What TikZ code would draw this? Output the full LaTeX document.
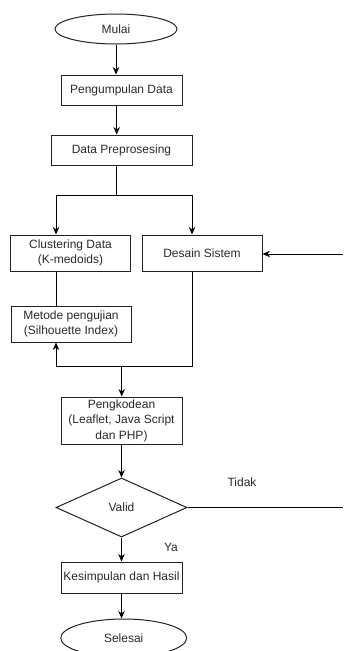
\documentclass[tikz,border=0pt]{standalone}
\usepackage{fontspec}
\setmainfont{Liberation Sans}
\usetikzlibrary{shapes.geometric,arrows.meta}
\definecolor{ln}{HTML}{222222}
\definecolor{tx}{HTML}{2A2A2A}
\begin{document}
\begin{tikzpicture}[x=1pt,y=-1pt,
  font=\fontsize{12}{15.5}\selectfont,
  every node/.style={text=tx},
  box/.style={draw=ln, line width=1pt, rectangle, inner sep=0pt, align=center},
  term/.style={draw=ln, line width=1pt, ellipse, inner sep=0pt},
  dec/.style={draw=ln, line width=1pt, diamond, inner sep=0pt},
  conn/.style={draw=black, line width=1pt},
  arr/.style={conn, -{Stealth[length=7.5pt,width=6.5pt]}},
  lbl/.style={inner sep=0pt}]
\useasboundingbox (0,0) rectangle (343,651);
\clip (0,0) rectangle (343,651);

\node[term, minimum width=122pt, minimum height=30pt] (mulai) at (116,29) {Mulai};
\node[box, minimum width=121pt, minimum height=30pt] (pd) at (121.5,90) {Pengumpulan Data};
\node[box, minimum width=141pt, minimum height=30pt] (prep) at (121.5,150) {Data Preprosesing};
\node[box, minimum width=119.5pt, minimum height=36pt] (clus) at (70.5,253) {Clustering Data\\(K-medoids)};
\node[box, minimum width=120pt, minimum height=36pt] (des) at (202,253) {Desain Sistem};
\node[box, minimum width=120pt, minimum height=36pt] (met) at (71,324) {Metode pengujian\\(Silhouette Index)};
\node[box, minimum width=121pt, minimum height=47pt] (kode) at (121.5,420.5) {Pengkodean\\(Leaflet, Java Script\\dan PHP)};
\node[dec, minimum width=131pt, minimum height=59pt] (valid) at (121.5,507.5) {Valid};
\node[box, minimum width=121pt, minimum height=31pt] (kes) at (121.5,577.5) {Kesimpulan dan Hasil};
\node[term, minimum width=126pt, minimum height=38pt] (sel) at (123.7,638) {Selesai};

\node[lbl] (tidak) at (242,482) {Tidak};
\node[lbl] (ya) at (171,547) {Ya};

\coordinate (split) at (116.7,195);
\coordinate (join) at (121.7,366);
\coordinate (rout) at (343,507.5);
\coordinate (rin) at (343,254);

\draw[arr] (mulai.south) -- (mulai.south |- pd.north);
\draw[arr] ([xshift=-4.8pt]pd.south) -- ([xshift=-4.8pt]prep.north);
\draw[conn] ([xshift=-4.8pt]prep.south) -- (split);
\draw[arr] (split) -| ([xshift=-14.5pt]clus.north);
\draw[arr] (split) -| ([xshift=-10pt]des.north);
\draw[conn] ([xshift=-14.5pt]clus.south) -- ([xshift=-15pt]met.north);
\draw[conn] ([xshift=-10pt]des.south) |- (join);
\draw[arr] (join) -| ([xshift=-15pt]met.south);
\draw[arr] (join) -- (join |- kode.north);
\draw[arr] (kode.south) -- (valid.north);
\draw[conn] (valid.east) -- (rout);
\draw[arr] (rin) -- (rin -| des.east);
\draw[arr] (valid.south) -- (kes.north);
\draw[arr] (kes.south) -- (kes.south |- sel.north);
\end{tikzpicture}
\end{document}
